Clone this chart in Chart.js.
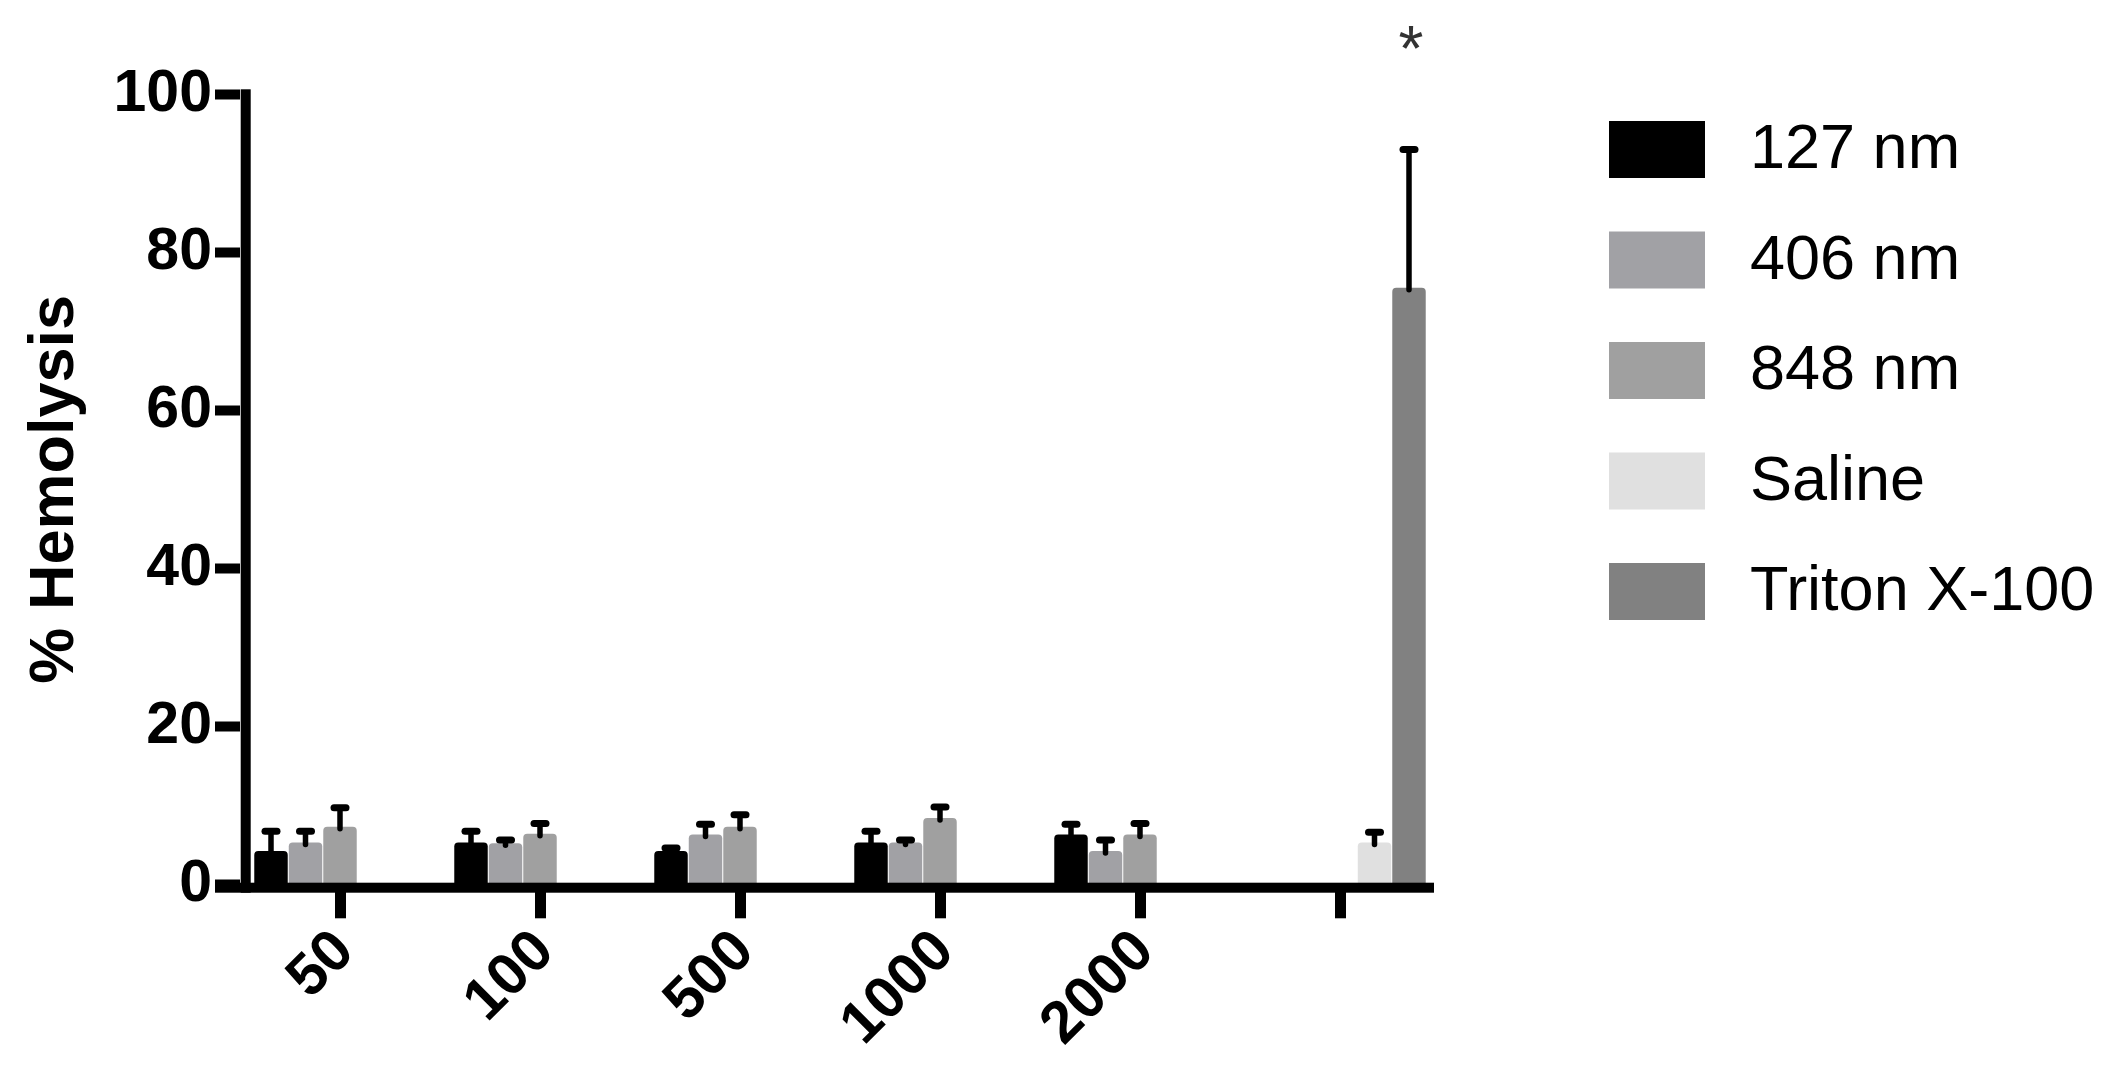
<!DOCTYPE html>
<html><head><meta charset="utf-8">
<script src="https://cdn.jsdelivr.net/npm/chart.js@4.4.1/dist/chart.umd.min.js"></script>
<style>html,body{margin:0;padding:0;background:#fff;overflow:hidden;} canvas{display:block;}</style>
</head><body>
<canvas id="c" width="2111" height="1070"></canvas>
<script>
// ---- data ----
const categories = ['50', '100', '500', '1000', '2000', ''];
const seriesNames = ['127 nm', '406 nm', '848 nm', 'Saline', 'Triton X-100'];
const seriesColors = ['#000000', '#a1a1a5', '#a0a0a0', '#e0e0e0', '#818181'];
const mean127 = [4.2, 5.3, 4.2, 5.3, 6.3, null];
const sd127 = [2.5, 1.4, 0.4, 1.4, 1.3, null];
const mean406 = [5.3, 5.2, 6.3, 5.3, 4.2, null];
const sd406 = [1.4, 0.4, 1.3, 0.3, 1.4, null];
const mean848 = [7.3, 6.4, 7.3, 8.4, 6.3, null];
const sd848 = [2.4, 1.3, 1.5, 1.4, 1.4, null];
const meanSaline = [null, null, null, null, null, 5.3];
const sdSaline = [null, null, null, null, null, 1.3];
const meanTriton = [null, null, null, null, null, 75.5];
const sdTriton = [null, null, null, null, null, 17.5];
const significanceTriton = ['', '', '', '', '', '*'];
const yTicks = [0, 20, 40, 60, 80, 100];
const yTitle = '% Hemolysis';

const means = [mean127, mean406, mean848, meanSaline, meanTriton];
const sds = [sd127, sd406, sd848, sdSaline, sdTriton];
const FONT = '"Liberation Sans", Arial, Helvetica, sans-serif';

const datasets = seriesNames.map((name, i) => ({
  label: name,
  data: means[i],
  sd: sds[i],
  backgroundColor: seriesColors[i],
  borderWidth: 0,
  borderRadius: 4,
  borderSkipped: 'start',
  barPercentage: 0.97,
  categoryPercentage: 0.8625
}));

const axesPlugin = {
  id: 'axesLines',
  afterDatasetsDraw(chart) {
    const ctx = chart.ctx, ca = chart.chartArea;
    const y = chart.scales.y;
    const y0 = y.getPixelForValue(0), yTop = y.getPixelForValue(yTicks[yTicks.length - 1]);
    ctx.save();
    ctx.fillStyle = '#000';
    ctx.fillRect(ca.left - 25, y0 - 1.6, (ca.right - 6) - (ca.left - 25), 10);
    ctx.fillRect(ca.left + 0.7, yTop - 5, 10, (y0 + 8.4) - (yTop - 5));
    ctx.restore();
  }
};

const errorPlugin = {
  id: 'errorBars',
  afterDatasetsDraw(chart) {
    const ctx = chart.ctx, y = chart.scales.y;
    ctx.save();
    ctx.strokeStyle = '#000';
    ctx.lineCap = 'round';
    chart.data.datasets.forEach((ds, di) => {
      const meta = chart.getDatasetMeta(di);
      ds.data.forEach((v, i) => {
        if (v == null || ds.sd[i] == null) return;
        const bar = meta.data[i];
        const yTopE = y.getPixelForValue(v + ds.sd[i]);
        const yMean = y.getPixelForValue(v);
        ctx.lineWidth = 5.5;
        ctx.beginPath();
        ctx.moveTo(bar.x, yMean + 2);
        ctx.lineTo(bar.x, yTopE);
        ctx.stroke();
        ctx.lineWidth = 7;
        ctx.beginPath();
        ctx.moveTo(bar.x - 6, yTopE);
        ctx.lineTo(bar.x + 6, yTopE);
        ctx.stroke();
        if (di === 4 && significanceTriton[i]) {
          ctx.fillStyle = '#333333';
          ctx.font = '64px ' + FONT;
          ctx.textAlign = 'center';
          ctx.textBaseline = 'alphabetic';
          ctx.fillText(significanceTriton[i], bar.x + 2, yTopE - 79);
        }
      });
    });
    ctx.restore();
  }
};

const legendPlugin = {
  id: 'customLegend',
  afterDraw(chart) {
    const ctx = chart.ctx, ca = chart.chartArea;
    const x0 = ca.right + 169, y0 = 121, step = 110.5;
    ctx.save();
    ctx.font = '63px ' + FONT;
    ctx.textAlign = 'left';
    ctx.textBaseline = 'middle';
    chart.data.datasets.forEach((ds, i) => {
      const by = y0 + i * step;
      ctx.fillStyle = ds.backgroundColor;
      ctx.fillRect(x0, by, 96, 57);
      ctx.fillStyle = '#000';
      ctx.fillText(ds.label, x0 + 141, by + 30);
    });
    ctx.restore();
  }
};

new Chart(document.getElementById('c'), {
  type: 'bar',
  data: { labels: categories, datasets },
  options: {
    responsive: false,
    animation: false,
    devicePixelRatio: 1,
    layout: { padding: { top: 94.3, right: 671, left: 0, bottom: 0 } },
    plugins: { legend: { display: false }, tooltip: { enabled: false } },
    scales: {
      x: {
        type: 'category',
        offset: true,
        grid: { drawOnChartArea: false, offset: false, tickLength: 34, tickWidth: 11, tickColor: '#000', drawTicks: true },
        border: { display: false },
        ticks: {
          autoSkip: false, minRotation: 45, maxRotation: 45, padding: 3, labelOffset: 5,
          color: '#000', font: { family: FONT, weight: 'bold', size: 59, lineHeight: 1.0 }
        },
        afterFit(scale) { scale.height = 1070 - 884.3; }
      },
      y: {
        min: 0, max: 100,
        afterBuildTicks(scale) { scale.ticks = yTicks.map(v => ({ value: v })); },
        grid: { drawOnChartArea: false, tickLength: 25, tickWidth: 10, tickColor: '#000' },
        border: { display: false },
        ticks: { padding: 3, color: '#000', font: { family: FONT, weight: 'bold', size: 59 } },
        title: { display: true, text: yTitle, color: '#000', align: 'center', font: { family: FONT, weight: 'bold', size: 63 }, padding: { top: 18, bottom: 0 } },
        afterFit(scale) { scale.width = 240; }
      }
    }
  },
  plugins: [axesPlugin, errorPlugin, legendPlugin]
});
</script>
</body></html>
